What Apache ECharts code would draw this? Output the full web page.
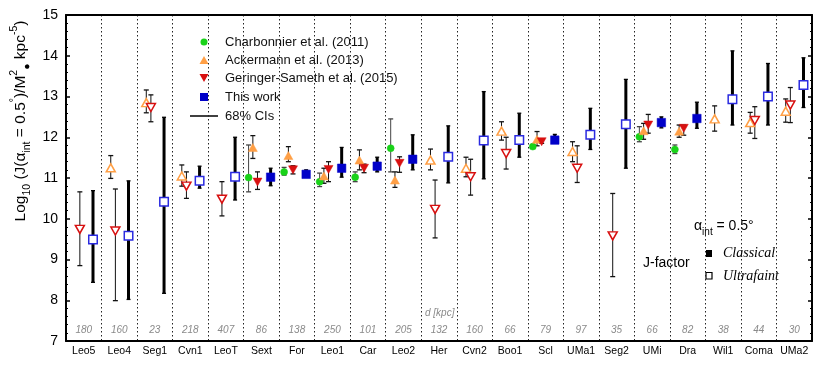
<!DOCTYPE html>
<html>
<head>
<meta charset="utf-8">
<script src="https://cdn.jsdelivr.net/npm/echarts@6/dist/echarts.min.js"></script>
<style>
  html, body { margin: 0; padding: 0; background: #fff; }
  #chart { width: 830px; height: 371px; }
</style>
</head>
<body>
<div id="chart"></div>
<script>
// dwarf galaxies and distances (kpc)
const dwarfs = ["Leo5", "Leo4", "Seg1", "Cvn1", "LeoT", "Sext", "For", "Leo1", "Car", "Leo2", "Her",
  "Cvn2", "Boo1", "Scl", "UMa1", "Seg2", "UMi", "Dra", "Wil1", "Coma", "UMa2"];
const distances = ["180", "160", "23", "218", "407", "86", "138", "250", "101", "205", "132",
  "160", "66", "79", "97", "35", "66", "82", "38", "44", "30"];
const classical = [0, 0, 0, 0, 0, 1, 1, 1, 1, 1, 0, 0, 0, 1, 0, 0, 1, 1, 0, 0, 0];

// Charbonnier et al. (2011)
const charbVal = [null, null, null, null, null, 11.01, 11.15, 10.91, 11.02, 11.73, null, null, null, 11.77, null, null, 12.01, 11.70, null, null, null];
const charbLo  = [null, null, null, null, null, 10.66, 11.07, 10.79, 10.91, 11.15, null, null, null, 11.73, null, null, 11.89, 11.60, null, null, null];
const charbHi  = [null, null, null, null, null, 11.81, 11.26, 11.12, 11.15, 12.45, null, null, null, 11.81, null, null, 12.26, 11.81, null, null, null];
// Ackermann et al. (2013)
const ackVal = [null, 11.25, 12.85, 11.05, null, 11.75, 11.55, 11.05, 11.44, 10.95, 11.44, 11.24, 12.15, 11.95, 11.65, null, 12.16, 12.15, 12.45, 12.36, 12.64];
const ackLo  = [null, 10.99, 12.60, 10.80, null, 11.48, 11.40, 10.87, 11.20, 10.77, 11.20, 11.03, 11.93, 11.79, 11.40, null, 11.95, 12.00, 12.15, 12.10, 12.37];
const ackHi  = [null, 11.55, 13.16, 11.32, null, 12.04, 11.77, 11.24, 11.69, 11.15, 11.71, 11.51, 12.38, 12.14, 11.89, null, 12.34, 12.30, 12.77, 12.61, 12.94];
// Geringer-Sameth et al. (2015)
const gsVal = [9.74, 9.70, 12.73, 10.80, 10.48, 10.90, 11.20, 11.21, 11.24, 11.36, 10.23, 11.03, 11.60, 11.89, 11.24, 9.58, 12.30, 12.22, null, 12.41, 12.79];
const gsLo  = [8.85, 7.99, 12.38, 10.50, 10.07, 10.72, 11.10, 10.91, 11.13, 11.14, 9.53, 10.58, 11.22, 11.85, 10.89, 8.58, 12.10, 12.05, null, 11.97, 12.36];
const gsHi  = [10.66, 10.73, 13.04, 11.15, 10.91, 11.15, 11.30, 11.40, 11.34, 11.52, 10.95, 11.46, 12.00, 11.93, 11.79, 10.62, 12.56, 12.30, null, 12.75, 13.22];
// This work
const twVal = [9.49, 9.58, 10.42, 10.93, 11.03, 11.02, 11.09, 11.24, 11.29, 11.46, 11.52, 11.92, 11.93, 11.93, 12.06, 12.32, 12.36, 12.46, 12.93, 13.00, 13.28];
const twLo  = [8.44, 8.02, 8.17, 10.75, 10.46, 10.81, 11.04, 11.02, 11.15, 11.20, 10.88, 10.98, 11.51, 11.87, 11.70, 11.24, 12.23, 12.22, 12.30, 12.30, 12.73];
const twHi  = [10.69, 10.93, 12.49, 11.29, 12.00, 11.24, 11.20, 11.75, 11.51, 12.06, 12.28, 13.12, 12.59, 12.07, 12.71, 13.42, 12.50, 12.86, 14.12, 13.81, 13.95];

const GREEN = "#19d219", ORANGE = "#ff9f45", RED = "#d81010", BLUE = "#0000c8", BLUE2 = "#2a2ae0";
const FONT = "Liberation Sans";

function marks(vals, off, color, hollowColor) {
  const out = [];
  vals.forEach(function (v, i) {
    if (v == null) return;
    out.push({
      value: [i + off, v],
      itemStyle: classical[i]
        ? { color: color, borderColor: color, borderWidth: 0.5, opacity: 1 }
        : { color: "#fff", borderColor: hollowColor || color, borderWidth: 1.5, opacity: 1 }
    });
  });
  return out;
}

function bars(lo, hi, off) {
  const out = [];
  lo.forEach(function (l, i) {
    if (l == null) return;
    out.push([i + off, l, hi[i]]);
  });
  return out;
}

function errorBar(width, cap, color) {
  return function (params, api) {
    const top = api.coord([api.value(0), api.value(2)]);
    const bot = api.coord([api.value(0), api.value(1)]);
    const capStyle = { stroke: color, lineWidth: 1.3 };
    return {
      type: "group",
      children: [
        { type: "line", shape: { x1: top[0], y1: top[1], x2: bot[0], y2: bot[1] }, style: { stroke: color, lineWidth: width } },
        { type: "line", shape: { x1: top[0] - cap, y1: top[1], x2: top[0] + cap, y2: top[1] }, style: capStyle },
        { type: "line", shape: { x1: bot[0] - cap, y1: bot[1], x2: bot[0] + cap, y2: bot[1] }, style: capStyle }
      ]
    };
  };
}

const chart = echarts.init(document.getElementById("chart"));

const yAxisBase = {
  type: "value",
  min: 7,
  max: 15,
  interval: 1,
  axisLine: { show: true, onZero: false, lineStyle: { color: "#000", width: 2 } },
  axisTick: { inside: true, length: 4, lineStyle: { color: "#000", width: 1.5 } },
  minorTick: { show: true, splitNumber: 5, length: 2, lineStyle: { color: "#000", width: 1 } },
  splitLine: { show: false }
};

chart.setOption({
  animation: false,
  grid: { left: 66, right: 18, top: 15, bottom: 30 },
  xAxis: [
    { type: "value", min: -0.5, max: 20.5, show: false },
    {
      type: "category",
      data: dwarfs,
      position: "bottom",
      axisLine: { onZero: false, lineStyle: { color: "#000", width: 2 } },
      axisTick: { inside: true, length: 16, interval: 0, lineStyle: { color: "#000", width: 3 } },
      axisLabel: { interval: 0, color: "#000", fontSize: 10.5, margin: 5, fontFamily: FONT },
      splitLine: { show: true, interval: 0, lineStyle: { color: "#222", width: 1, type: [1.5, 2.5] } }
    },
    {
      type: "category",
      data: dwarfs,
      position: "top",
      axisLine: { onZero: false, lineStyle: { color: "#000", width: 2 } },
      axisTick: { inside: true, length: 12, interval: 0, lineStyle: { color: "#000", width: 3 } },
      axisLabel: { show: false },
      splitLine: { show: false }
    },
    {
      type: "category",
      data: distances,
      position: "bottom",
      axisLine: { show: false },
      axisTick: { show: false },
      axisLabel: { inside: true, interval: 0, margin: 6, color: "#8a8a8a", fontStyle: "italic", fontSize: 10, fontFamily: FONT },
      splitLine: { show: false }
    }
  ],
  yAxis: [
    Object.assign({}, yAxisBase, {
      position: "left",
      axisLabel: { color: "#000", fontSize: 14, margin: 8, fontFamily: FONT }
    }),
    Object.assign({}, yAxisBase, {
      position: "right",
      axisLabel: { show: false }
    })
  ],
  series: [
    { type: "custom", name: "cb-err", renderItem: errorBar(1, 2.5, "#444"), data: bars(charbLo, charbHi, -0.36), z: 2 },
    { type: "custom", name: "ack-err", renderItem: errorBar(1, 2.5, "#111"), data: bars(ackLo, ackHi, -0.24), z: 2 },
    { type: "custom", name: "gs-err", renderItem: errorBar(1, 2.5, "#111"), data: bars(gsLo, gsHi, -0.11), z: 2 },
    { type: "custom", name: "tw-err", renderItem: errorBar(3, 2, "#000"), data: bars(twLo, twHi, 0.26), z: 2 },
    { type: "scatter", name: "Charbonnier et al. (2011)", symbol: "circle", symbolSize: 7, data: marks(charbVal, -0.36, GREEN), z: 3 },
    { type: "scatter", name: "Ackermann et al. (2013)", symbol: "triangle", symbolSize: [9, 8], data: marks(ackVal, -0.24, ORANGE), z: 3 },
    { type: "scatter", name: "Geringer-Sameth et al. (2015)", symbol: "triangle", symbolRotate: 180, symbolSize: [9, 8], data: marks(gsVal, -0.11, RED), z: 3 },
    { type: "scatter", name: "This work", symbol: "rect", symbolSize: 8.5, data: marks(twVal, 0.26, BLUE, BLUE2), z: 4 }
  ],
  graphic: [
    // y-axis title
    {
      type: "text",
      x: 21, y: 121, rotation: Math.PI / 2,
      style: {
        text: "Log{sub|10} (J(α{sub|int} = 0.5{sup|°})/M{sup|2}{sub|●} kpc{sup|-5})",
        fontSize: 15.5, fontFamily: FONT, fill: "#000", align: "center", verticalAlign: "middle",
        lineHeight: 24,
        rich: {
          sub: { fontSize: 10.5, verticalAlign: "bottom", fontFamily: FONT },
          sup: { fontSize: 10.5, verticalAlign: "top", fontFamily: FONT }
        }
      }
    },
    // legend
    { type: "circle", shape: { cx: 204, cy: 42, r: 3.5 }, style: { fill: GREEN } },
    { type: "polygon", shape: { points: [[199.5, 64], [208.5, 64], [204, 56]] }, style: { fill: ORANGE } },
    { type: "polygon", shape: { points: [[199.5, 74], [208.5, 74], [204, 82]] }, style: { fill: RED } },
    { type: "rect", shape: { x: 200, y: 93, width: 8, height: 8 }, style: { fill: BLUE } },
    { type: "line", shape: { x1: 190, y1: 116, x2: 218, y2: 116 }, style: { stroke: "#000", lineWidth: 1.5 } },
    { type: "text", x: 225, y: 42, style: { text: "Charbonnier et al. (2011)", fontSize: 13, fontFamily: FONT, fill: "#111", verticalAlign: "middle" } },
    { type: "text", x: 225, y: 60, style: { text: "Ackermann et al. (2013)", fontSize: 13, fontFamily: FONT, fill: "#111", verticalAlign: "middle" } },
    { type: "text", x: 225, y: 78, style: { text: "Geringer-Sameth et al. (2015)", fontSize: 13, fontFamily: FONT, fill: "#111", verticalAlign: "middle" } },
    { type: "text", x: 225, y: 97, style: { text: "This work", fontSize: 13, fontFamily: FONT, fill: "#111", verticalAlign: "middle" } },
    { type: "text", x: 225, y: 116, style: { text: "68% CIs", fontSize: 13, fontFamily: FONT, fill: "#111", verticalAlign: "middle" } },
    // distance header
    { type: "text", x: 425, y: 313, style: { text: "d [kpc]", fontSize: 10, fontStyle: "italic", fontFamily: FONT, fill: "#8a8a8a", verticalAlign: "middle" } },
    // annotation block
    {
      type: "text", x: 694, y: 226,
      style: {
        text: "α{sub|int} = 0.5°", fontSize: 14, fontFamily: FONT, fill: "#000", verticalAlign: "middle", lineHeight: 22,
        rich: { sub: { fontSize: 10, verticalAlign: "bottom", fontFamily: FONT } }
      }
    },
    { type: "text", x: 643, y: 263, style: { text: "J-factor", fontSize: 14, fontFamily: FONT, fill: "#000", verticalAlign: "middle" } },
    { type: "rect", shape: { x: 706, y: 250, width: 6, height: 7 }, style: { fill: "#000" } },
    { type: "rect", shape: { x: 706, y: 272.5, width: 6, height: 6.5 }, style: { fill: "#fff", stroke: "#000", lineWidth: 1.2 } },
    { type: "text", x: 723, y: 253, style: { text: "Classical", fontSize: 14, fontStyle: "italic", fontFamily: "Liberation Serif", fill: "#000", verticalAlign: "middle" } },
    { type: "text", x: 723, y: 276, style: { text: "Ultrafaint", fontSize: 14, fontStyle: "italic", fontFamily: "Liberation Serif", fill: "#000", verticalAlign: "middle" } }
  ]
});
</script>
</body>
</html>
